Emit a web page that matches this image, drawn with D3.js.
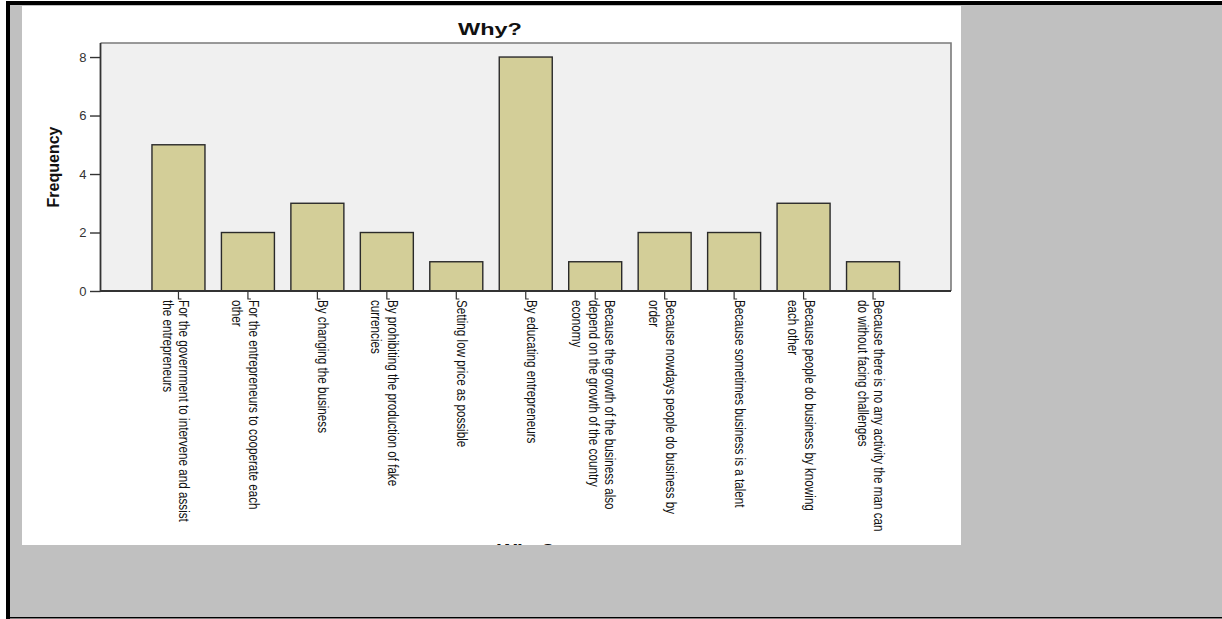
<!DOCTYPE html>
<html>
<head>
<meta charset="utf-8">
<script src="https://cdn.jsdelivr.net/npm/d3@7/dist/d3.min.js"></script>
<style>
  html, body { margin: 0; padding: 0; background: #ffffff; overflow: hidden; }
  svg { display: block; }
</style>
</head>
<body>
<svg id="chart" width="1222" height="619"></svg>
<script>
// ---- data ----
const chartTitle = "Why?";
const xAxisTitle = "Why?";
const yAxisTitle = "Frequency";
const categories = [
  "For the government to intervene and assist\nthe entrepreneurs",
  "For the entrepreneurs to cooperate each\nother",
  "By changing the business",
  "By prohibiting the production of fake\ncurrencies",
  "Setting low price as possible",
  "By educating entrepreneurs",
  "Because the growth of the business also\ndepend on the growth of the country\neconomy",
  "Because nowdays people do business by\norder",
  "Because sometimes business is a talent",
  "Because people do business by knowing\neach other",
  "Because there is no any activity the man can\ndo without facing challenges"
];
const frequencies = [5, 2, 3, 2, 1, 8, 1, 2, 2, 3, 1];
const yTicks = [0, 2, 4, 6, 8];

// ---- layout ----
const svg = d3.select("#chart");
const W = 1222, H = 619;
const plot = { left: 100.5, right: 951, top: 43, bottom: 291 };
const FONT = "'Liberation Sans', Arial, Helvetica, sans-serif";

// page background & frame
svg.append("rect").attr("x", 0).attr("y", 0).attr("width", W).attr("height", H).attr("fill", "#ffffff");
svg.append("rect").attr("x", 6).attr("y", 1).attr("width", W - 6).attr("height", H - 2).attr("fill", "#c0c0c0");
svg.append("rect").attr("x", 6).attr("y", 1).attr("width", W - 6).attr("height", 4).attr("fill", "#000");
svg.append("rect").attr("x", 6).attr("y", 1).attr("width", 4).attr("height", H - 1).attr("fill", "#000");
svg.append("rect").attr("x", 6).attr("y", 617).attr("width", W - 6).attr("height", 1.5).attr("fill", "#000");

// white image area
const imgX = 22, imgY = 6, imgW = 961 - 22, imgH = 545 - 6;
svg.append("defs").append("clipPath").attr("id", "imgclip")
  .append("rect").attr("x", imgX).attr("y", imgY).attr("width", imgW).attr("height", imgH);
const g = svg.append("g").attr("clip-path", "url(#imgclip)");
g.append("rect").attr("x", imgX).attr("y", imgY).attr("width", imgW).attr("height", imgH).attr("fill", "#ffffff");

// scales
const x = d3.scaleBand().domain(categories).range([plot.left, plot.right])
  .paddingInner(0.237).paddingOuter(0.741);
const y = d3.scaleLinear().domain([0, 8.48]).range([plot.bottom, plot.top]);

// plot background
g.append("rect").attr("x", plot.left).attr("y", plot.top)
  .attr("width", plot.right - plot.left).attr("height", plot.bottom - plot.top)
  .attr("fill", "#f0f0f0");
// top & right frame
g.append("path")
  .attr("d", `M${plot.left},${plot.top}H${plot.right}V${plot.bottom}`)
  .attr("fill", "none").attr("stroke", "#7a7a7a").attr("stroke-width", 1.6);

// bars
g.selectAll("rect.bar").data(categories).enter().append("rect")
  .attr("class", "bar")
  .attr("x", d => x(d))
  .attr("y", (d, i) => y(frequencies[i]))
  .attr("width", x.bandwidth())
  .attr("height", (d, i) => y(0) - y(frequencies[i]))
  .attr("fill", "#d3ce98")
  .attr("stroke", "#2a2a2a")
  .attr("stroke-width", 1.4);

// y axis
const yAxis = d3.axisLeft(y).tickValues(yTicks).tickSize(10.5).tickPadding(3.5).tickSizeOuter(0)
  .tickFormat(d3.format("d"));
const yg = g.append("g").attr("transform", `translate(${plot.left},0)`).call(yAxis);
yg.select(".domain").remove();
yg.selectAll(".tick line").attr("stroke", "#333").attr("stroke-width", 1.4);
yg.selectAll(".tick text").attr("fill", "#333").style("font-family", FONT).style("font-size", "13px");

// axis lines (left & bottom)
g.append("path")
  .attr("d", `M${plot.left},${plot.top}V${plot.bottom}H${plot.right}`)
  .attr("fill", "none").attr("stroke", "#333").attr("stroke-width", 1.8);

// x ticks (L shaped)
g.selectAll("path.xtick").data(categories).enter().append("path")
  .attr("class", "xtick")
  .attr("d", d => {
    const cx = x(d) + x.bandwidth() / 2;
    return `M${cx},${plot.bottom}V${plot.bottom + 8}H${cx + 3}`;
  })
  .attr("fill", "none").attr("stroke", "#333").attr("stroke-width", 1.2);

// x tick labels (rotated, condensed)
const lineH = 16.5;
categories.forEach(cat => {
  const lines = cat.split("\n");
  const cx = x(cat) + x.bandwidth() / 2;
  const shift = 1 + Math.max(0, lines.length - 2) * 9;
  const t = g.append("text")
    .attr("transform", `translate(${cx + shift},${plot.bottom + 9}) rotate(90) scale(0.835,1)`)
    .style("font-family", FONT).style("font-size", "14px").attr("fill", "#111");
  lines.forEach((ln, i) => {
    t.append("tspan").attr("x", 0).attr("y", i * lineH).text(ln);
  });
});

// title
g.append("text").attr("x", 490).attr("y", 35).attr("text-anchor", "middle")
  .attr("textLength", 64).attr("lengthAdjust", "spacingAndGlyphs")
  .style("font-family", FONT).style("font-size", "17px").style("font-weight", "bold")
  .attr("fill", "#111").text(chartTitle);

// y axis title
g.append("text").attr("transform", `translate(58.5,${(plot.top + plot.bottom) / 2}) rotate(-90)`)
  .attr("text-anchor", "middle")
  .style("font-family", FONT).style("font-size", "16px").style("font-weight", "bold")
  .attr("fill", "#111").text(yAxisTitle);

// x axis title (cut off by the image edge)
g.append("text").attr("x", (plot.left + plot.right) / 2).attr("y", 556).attr("text-anchor", "middle")
  .attr("textLength", 57).attr("lengthAdjust", "spacingAndGlyphs")
  .style("font-family", FONT).style("font-size", "17px").style("font-weight", "bold")
  .attr("fill", "#111").text(xAxisTitle);
</script>
</body>
</html>
